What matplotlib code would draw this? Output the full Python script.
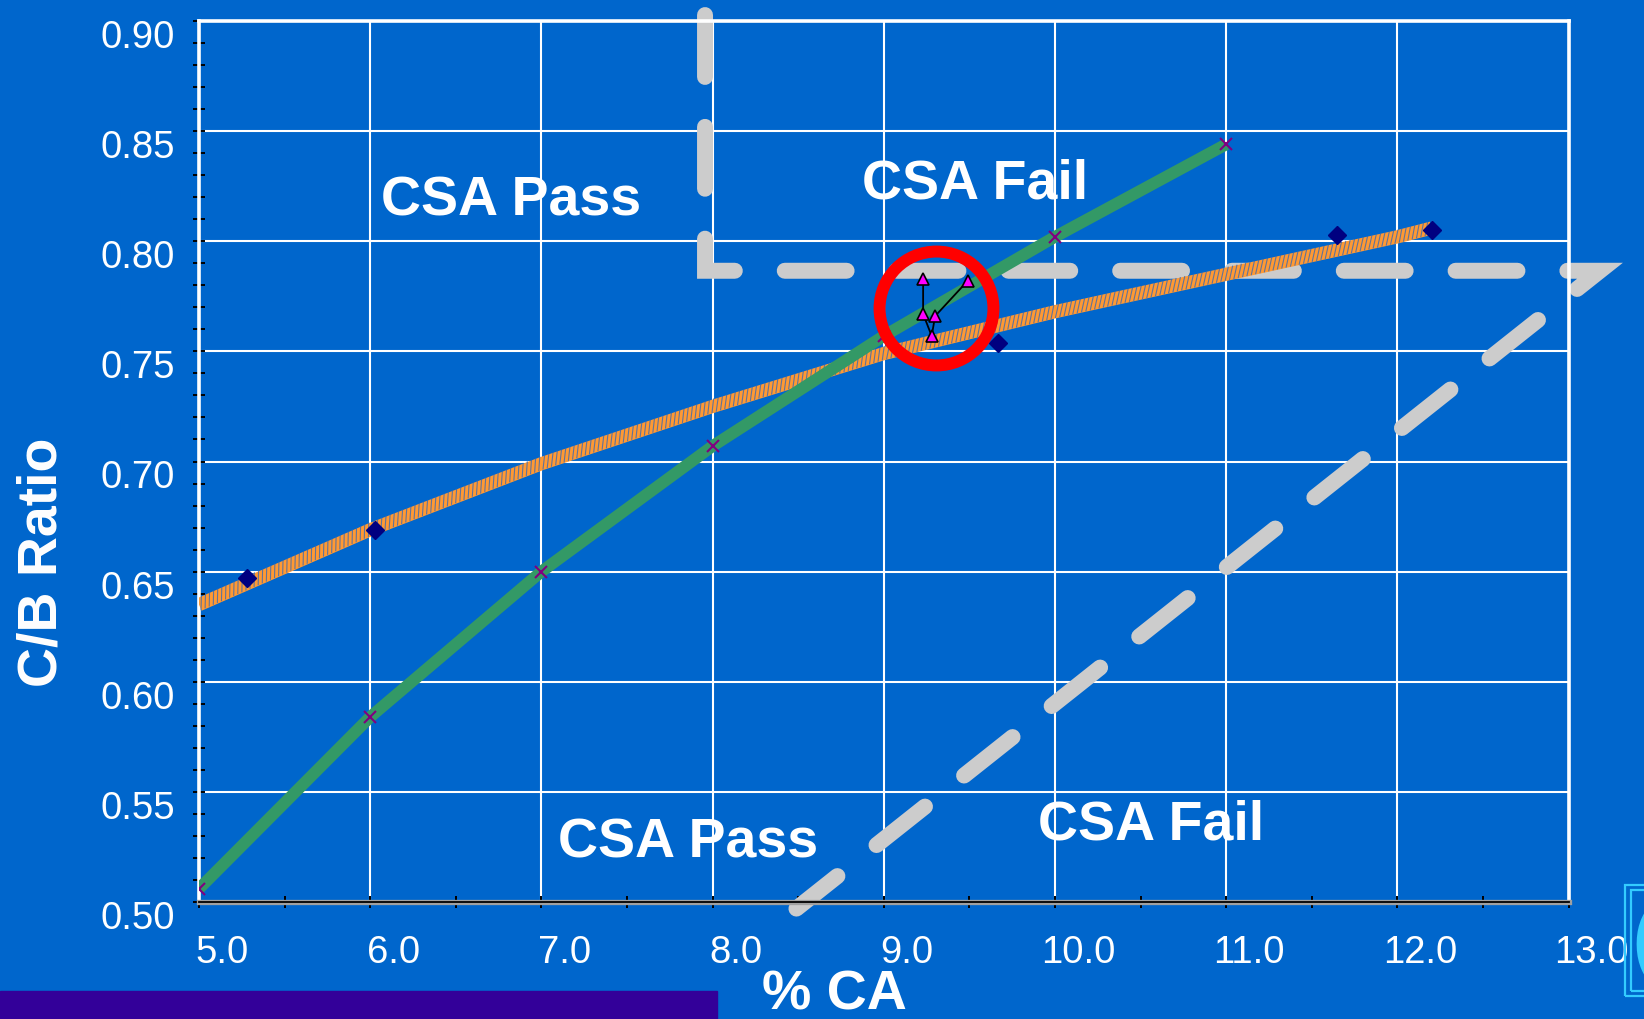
import matplotlib
matplotlib.use('Agg')
import matplotlib.pyplot as plt
import matplotlib.patheffects as pe
from matplotlib.transforms import offset_copy
from matplotlib.patches import Rectangle
from matplotlib.lines import Line2D

plt.rcParams['font.family'] = ['Liberation Sans', 'DejaVu Sans']

BG = '#0066CC'

# C/B ratio against % CA, reference curve
ca_curve = [5.0, 6.0, 7.0, 8.0, 9.0, 10.0, 11.0]
cb_curve = [0.506, 0.584, 0.650, 0.707, 0.757, 0.802, 0.844]

# plant samples
ca_samples = [5.28, 6.03, 9.67, 11.65, 12.20]
cb_samples = [0.647, 0.669, 0.754, 0.803, 0.805]

# trend line through the samples
ca_trend = [5.0, 6.0, 7.0, 8.0, 9.0, 10.0, 11.0, 12.0, 12.2]
cb_trend = [0.635, 0.669, 0.699, 0.725, 0.749, 0.768, 0.785, 0.802, 0.806]

# recent test results (joined in test order)
ca_tests = [9.23, 9.23, 9.28, 9.30, 9.49]
cb_tests = [0.783, 0.767, 0.757, 0.766, 0.782]

# CSA pass / fail boundary
ca_limit = [7.956, 7.956, 13.184, 8.49]
cb_limit = [0.9027, 0.7866, 0.7866, 0.497]

highlight_ca = [9.305]
highlight_cb = [0.7695]

x_ticks = [5.0, 6.0, 7.0, 8.0, 9.0, 10.0, 11.0, 12.0, 13.0]
x_minor = [5.5, 6.5, 7.5, 8.5, 9.5, 10.5, 11.5, 12.5]
y_ticks = [0.50, 0.55, 0.60, 0.65, 0.70, 0.75, 0.80, 0.85, 0.90]
y_minor = [round(0.50 + 0.01 * i, 2) for i in range(41)]

W, H = 1644, 1019
fig = plt.figure(figsize=(W / 100, H / 100), dpi=100, facecolor=BG)
ax = fig.add_axes([199 / W, 1 - 902 / H, (1568.5 - 199) / W, (902 - 21) / H])
ax.set_facecolor(BG)
ax.set_xlim(5.0, 13.0)
ax.set_ylim(0.50, 0.90)

ax.set_xticks(x_ticks)
ax.set_xticks(x_minor, minor=True)
ax.set_yticks(y_ticks)
ax.set_yticks(y_minor, minor=True)
ax.tick_params(which='both', direction='inout', length=9, width=1.4,
               color='black', labelbottom=False, labelleft=False)
ax.grid(which='major', color='white', linewidth=1.5)
ax.set_axisbelow(True)

for side in ['left', 'top', 'right']:
    ax.spines[side].set_color('white')
    ax.spines[side].set_linewidth(2.6)
ax.spines['bottom'].set_color('black')
ax.spines['bottom'].set_linewidth(1.3)
ax.spines['bottom'].set_path_effects(
    [pe.Stroke(linewidth=3.8, foreground='#A0A0A0'), pe.Normal()])

# tick labels sit a little off the ticks
for v in x_ticks:
    ax.text(v, 0, f'{v:.1f}', color='white', fontsize=27.5,
            ha='center', va='baseline', clip_on=False,
            transform=offset_copy(ax.get_xaxis_transform(), x=23, y=-61,
                                  units='dots'))
for v in y_ticks:
    ax.text(0, v, f'{v:.2f}', color='white', fontsize=27.5,
            ha='right', va='baseline', clip_on=False,
            transform=offset_copy(ax.get_yaxis_transform(), x=-24, y=-27,
                                  units='dots'))

# pass / fail boundary
ax.plot(ca_limit, cb_limit, color='#CCCCCC', linewidth=11.5,
        linestyle=(0, (3.875, 3.125)), dash_capstyle='round',
        dash_joinstyle='miter', clip_on=False, zorder=2)

# sample trend (textured orange)
ax.plot(ca_trend, cb_trend, color='#FF9933', linewidth=9.5, zorder=3,
        solid_capstyle='butt',
        path_effects=[pe.Normal(),
                      pe.TickedStroke(offset=(0, -4.6), spacing=3.2, angle=65,
                                      length=3.3, linewidth=0.8,
                                      foreground='#2F66B8', alpha=0.75)])
ax.plot(ca_samples, cb_samples, linestyle='none', marker='D', markersize=9.5,
        color='#000080', zorder=5)

# reference curve
ax.plot(ca_curve, cb_curve, color='#339966', linewidth=8.5, zorder=4,
        solid_capstyle='butt')
ax.plot(ca_curve, cb_curve, linestyle='none', marker='x', markersize=9,
        markeredgewidth=1.5, color='#800080', zorder=5)

# highlighted region and test results
ax.plot(highlight_ca, highlight_cb, marker='o', markersize=82,
        markerfacecolor='none', markeredgecolor='#FF0000',
        markeredgewidth=8.6, zorder=6)
ax.plot(ca_tests, cb_tests, color='black', linewidth=1.3, marker='^',
        markersize=8, markerfacecolor='#FF00FF', markeredgecolor='black',
        markeredgewidth=1.2, zorder=7)

bold = dict(color='white', fontsize=40, fontweight='bold', va='baseline',
            ha='left', zorder=8)
ax.text(6.063, 0.8119, 'CSA Pass', **bold)
ax.text(8.873, 0.8192, 'CSA Fail', **bold)
ax.text(7.097, 0.5204, 'CSA Pass', **bold)
ax.text(9.901, 0.5286, 'CSA Fail', **bold)

fig.text(57 / W, 1 - 562 / H, 'C/B Ratio', rotation=90, rotation_mode='anchor',
         ha='center', va='baseline', color='white', fontsize=40,
         fontweight='bold')
fig.text(834 / W, 1 - 1010 / H, '% CA', ha='center', va='baseline',
         color='white', fontsize=40, fontweight='bold')

# slide decorations around the chart
fig.patches.append(Rectangle((0, 0), 717 / W, (H - 991) / H,
                             transform=fig.transFigure, color='#330099',
                             zorder=0))
fig.lines.append(Line2D([797 / W, 1.05], [1 - 1022 / H, 1 - 1022 / H],
                        transform=fig.transFigure, color='#CCCCCC',
                        linewidth=10, linestyle=(0, (0.01, 9.6)),
                        dash_capstyle='round'))
fig.patches.append(Rectangle((1624.5 / W, 1 - 996 / H), 0.05, 111.5 / H,
                             transform=fig.transFigure, fill=False,
                             edgecolor='#33CCFF', linewidth=1.6))
fig.patches.append(Rectangle((1631 / W, 1 - 991 / H), 0.05, 101 / H,
                             transform=fig.transFigure, fill=False,
                             edgecolor='#33CCFF', linewidth=1.6))
fig.text(1630 / W, 1 - 944 / H, '(', ha='left', va='center', fontsize=66,
         color='#33CCFF')

fig.savefig('out.png', dpi=100, facecolor=BG)
